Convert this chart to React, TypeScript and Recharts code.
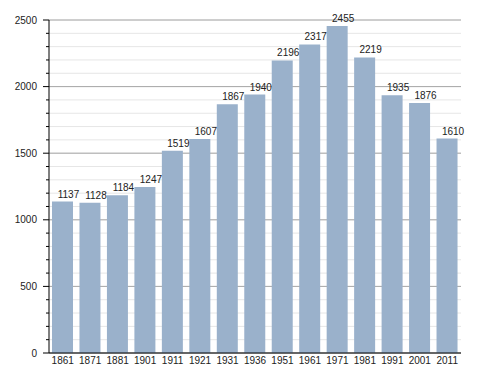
import { BarChart, Bar, XAxis, YAxis, CartesianGrid, LabelList } from "recharts";

const years = ["1861", "1871", "1881", "1901", "1911", "1921", "1931", "1936", "1951", "1961", "1971", "1981", "1991", "2001", "2011"];
const population = [1137, 1128, 1184, 1247, 1519, 1607, 1867, 1940, 2196, 2317, 2455, 2219, 1935, 1876, 1610];
const majorTicks = [0, 500, 1000, 1500, 2000, 2500];
const minorTicks = [
  0, 100, 200, 300, 400, 500, 600, 700, 800, 900, 1000, 1100, 1200, 1300, 1400, 1500,
  1600, 1700, 1800, 1900, 2000, 2100, 2200, 2300, 2400, 2500,
];

const data = years.map((year, i) => ({ year, value: population[i] }));

const font = "'Liberation Sans', Arial, sans-serif";

const YTick = (props: any) => {
  const { x, y, payload } = props;
  const major = majorTicks.includes(payload.value);
  return (
    <g>
      <line x1={x - (major ? 6 : 3)} x2={x} y1={y} y2={y} stroke="#000" strokeWidth={1} />
      {major && (
        <text x={x - 12} y={y + 3.5} textAnchor="end" fontSize={10} fontFamily={font} fill="#222">
          {payload.value}
        </text>
      )}
    </g>
  );
};

const XTick = (props: any) => {
  const { x, y, payload } = props;
  return (
    <text x={x} y={y + 11} textAnchor="middle" fontSize={10} fontFamily={font} fill="#222">
      {payload.value}
    </text>
  );
};

const ValueLabel = (props: any) => {
  const { x, y, width, value } = props;
  return (
    <text x={x + width / 2 + 6} y={y - 4} textAnchor="middle" fontSize={10} fontFamily={font} fill="#222">
      {value}
    </text>
  );
};

export default function App() {
  return (
    <div style={{ position: "absolute", left: 0, top: 0, background: "#fff" }}>
      <BarChart
        width={488}
        height={373}
        data={data}
        margin={{ top: 20, right: 27, left: 0, bottom: 0 }}
        barCategoryGap={0}
      >
        <CartesianGrid vertical={false} horizontalValues={minorTicks} stroke="#e6e6e6" />
        <CartesianGrid vertical={false} horizontalValues={majorTicks} stroke="#a8a8a8" />
        <XAxis
          dataKey="year"
          height={20}
          tickLine={false}
          tickSize={0}
          tickMargin={0}
          interval={0}
          axisLine={{ stroke: "#000", strokeWidth: 1 }}
          tick={<XTick />}
        />
        <YAxis
          width={49}
          domain={[0, 2500]}
          ticks={minorTicks}
          interval={0}
          tickLine={false}
          tickSize={0}
          tickMargin={0}
          axisLine={{ stroke: "#000", strokeWidth: 1 }}
          tick={<YTick />}
        />
        <Bar dataKey="value" fill="#9ab1cb" barSize={21} isAnimationActive={false}>
          <LabelList dataKey="value" content={<ValueLabel />} />
        </Bar>
      </BarChart>
    </div>
  );
}
